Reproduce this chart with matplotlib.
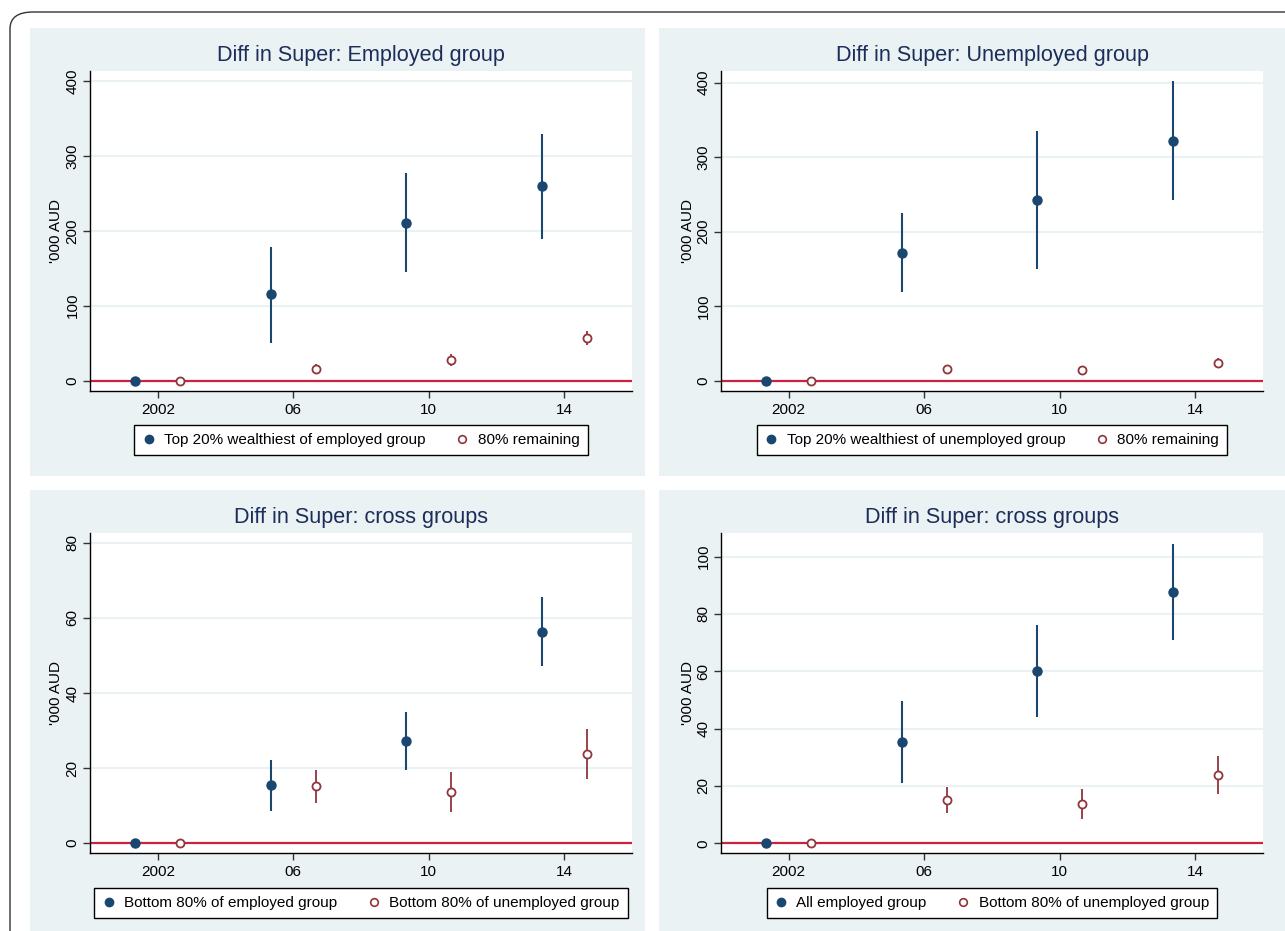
import numpy as np
import matplotlib
matplotlib.use("Agg")
import matplotlib.pyplot as plt
from matplotlib.patches import Rectangle, FancyBboxPatch
from matplotlib.lines import Line2D

plt.rcParams['font.family'] = ['Liberation Sans', 'DejaVu Sans']

# survey waves
years = np.array([2002, 2006, 2010, 2014])
year_ticks = [2002, 2006, 2010, 2014]
year_labels = ['2002', '06', '10', '14']

# difference in super balance, '000 AUD, with confidence bounds
top20_emp = np.array([0, 115.0, 211.0, 259.5])
top20_emp_lo = np.array([0, 50.0, 144.5, 188.6])
top20_emp_hi = np.array([0, 178.0, 277.7, 329.0])

bot80_emp = np.array([0, 15.4, 27.1, 56.3])
bot80_emp_lo = np.array([0, 8.5, 19.4, 47.1])
bot80_emp_hi = np.array([0, 22.2, 35.0, 65.5])

top20_unemp = np.array([0, 171.6, 242.2, 322.2])
top20_unemp_lo = np.array([0, 119.3, 149.7, 242.6])
top20_unemp_hi = np.array([0, 224.4, 334.3, 401.7])

bot80_unemp = np.array([0, 15.2, 13.7, 23.8])
bot80_unemp_lo = np.array([0, 10.7, 8.3, 17.1])
bot80_unemp_hi = np.array([0, 19.5, 18.9, 30.3])

all_emp = np.array([0, 35.3, 60.1, 87.7])
all_emp_lo = np.array([0, 21.0, 44.1, 70.9])
all_emp_hi = np.array([0, 49.5, 76.1, 104.5])

W, H = 1285, 931
NAVY = '#1A476F'
MAROON = '#90353B'
ZERO = '#C8233F'
BG = '#EAF2F3'
TITLE = '#1C2D5A'
FS = 11

fig = plt.figure(figsize=(W / 100, H / 100), dpi=100, facecolor='white')


def px_rect(x0, y0, x1, y1):
    return [x0 / W, 1 - y1 / H, (x1 - x0) / W, (y1 - y0) / H]


# outer frame
fig.patches.append(FancyBboxPatch((10 / W, -0.05), 1.2, 1 - 12 / H + 0.05,
                                  boxstyle='round,pad=0,rounding_size=0.018',
                                  transform=fig.transFigure, facecolor='none',
                                  edgecolor='#333333', lw=1.0, zorder=-2))

# graph regions
for (x0, y0, x1, y1) in [(30, 28, 645, 476), (659, 28, 1285, 476),
                         (30, 490, 645, 931), (659, 490, 1285, 931)]:
    fig.patches.append(Rectangle((x0 / W, 1 - y1 / H), (x1 - x0) / W,
                                 (y1 - y0) / H, transform=fig.transFigure,
                                 facecolor=BG, edgecolor='none', zorder=-1))


def panel(rect, title, title_y, ylim, yticks, s1, s2, legend_y):
    x0, y0, x1, y1 = rect
    ax = fig.add_axes(px_rect(x0, y0, x1, y1))
    ax.set_facecolor('white')
    ax.set_xlim(2000, 2016)
    ax.set_ylim(*ylim)
    for side in ['top', 'right']:
        ax.spines[side].set_visible(False)
    for side in ['left', 'bottom']:
        ax.spines[side].set_linewidth(1.0)
        ax.spines[side].set_color('black')
    ax.set_xticks(year_ticks)
    ax.set_xticklabels(year_labels)
    ax.set_yticks(yticks)
    ax.set_yticklabels([str(t) for t in yticks])
    ax.tick_params(axis='both', length=5, width=1, color='#333333',
                   labelsize=FS, pad=4)
    ax.tick_params(axis='y', labelrotation=90, pad=2.5)
    for lbl in ax.get_yticklabels():
        lbl.set_va('center')
    ax.yaxis.grid(True, color=BG, lw=1.5)
    ax.set_axisbelow(True)
    ax.set_ylabel("'000 AUD", fontsize=FS, labelpad=1.5)
    ax.axhline(0, color=ZERO, lw=1.6, zorder=2)

    (y, lo, hi, lab1), (y2, lo2, hi2, lab2) = s1, s2
    xb = years - 2 / 3
    xr = years + 2 / 3
    ax.errorbar(xb, y, yerr=[y - lo, hi - y], fmt='none', ecolor=NAVY,
                elinewidth=1.5, zorder=3)
    ax.plot(xb, y, 'o', color=NAVY, ms=6.5, zorder=4)
    ax.errorbar(xr, y2, yerr=[y2 - lo2, hi2 - y2], fmt='none', ecolor=MAROON,
                elinewidth=1.3, zorder=3)
    ax.plot(xr, y2, 'o', mfc='white', mec=MAROON, mew=1.3, ms=5.8, zorder=4)

    cx = (x0 + x1) / 2
    fig.text(cx / W, 1 - title_y / H, title, ha='center', va='center',
             fontsize=15.6, color=TITLE)

    handles = [Line2D([], [], ls='none', marker='o', color=NAVY, ms=6),
               Line2D([], [], ls='none', marker='o', mfc='white', mec=MAROON,
                      mew=1.2, ms=5.5)]
    leg = fig.legend(handles, [lab1, lab2], loc='center', ncol=2,
                     bbox_to_anchor=(cx / W, 1 - legend_y / H),
                     bbox_transform=fig.transFigure, fontsize=FS,
                     frameon=True, fancybox=False, edgecolor='black',
                     framealpha=1, handlelength=0.8, handletextpad=0.6,
                     columnspacing=2.0, borderpad=0.55)
    leg.get_frame().set_linewidth(1.0)
    return ax


panel((90, 71, 632, 391), 'Diff in Super: Employed group', 55,
      (-14, 413.4), [0, 100, 200, 300, 400],
      (top20_emp, top20_emp_lo, top20_emp_hi,
       'Top 20% wealthiest of employed group'),
      (bot80_emp, bot80_emp_lo, bot80_emp_hi, '80% remaining'), 440)

panel((721, 71, 1263, 391), 'Diff in Super: Unemployed group', 55,
      (-14, 415.5), [0, 100, 200, 300, 400],
      (top20_unemp, top20_unemp_lo, top20_unemp_hi,
       'Top 20% wealthiest of unemployed group'),
      (bot80_unemp, bot80_unemp_lo, bot80_unemp_hi, '80% remaining'), 440)

panel((90, 533, 632, 853), 'Diff in Super: cross groups', 517,
      (-2.6, 82.6), [0, 20, 40, 60, 80],
      (bot80_emp, bot80_emp_lo, bot80_emp_hi, 'Bottom 80% of employed group'),
      (bot80_unemp, bot80_unemp_lo, bot80_unemp_hi,
       'Bottom 80% of unemployed group'), 903)

panel((721, 533, 1263, 853), 'Diff in Super: cross groups', 517,
      (-3.4, 108.2), [0, 20, 40, 60, 80, 100],
      (all_emp, all_emp_lo, all_emp_hi, 'All employed group'),
      (bot80_unemp, bot80_unemp_lo, bot80_unemp_hi,
       'Bottom 80% of unemployed group'), 903)

fig.savefig('out.png', dpi=100, facecolor='white')
